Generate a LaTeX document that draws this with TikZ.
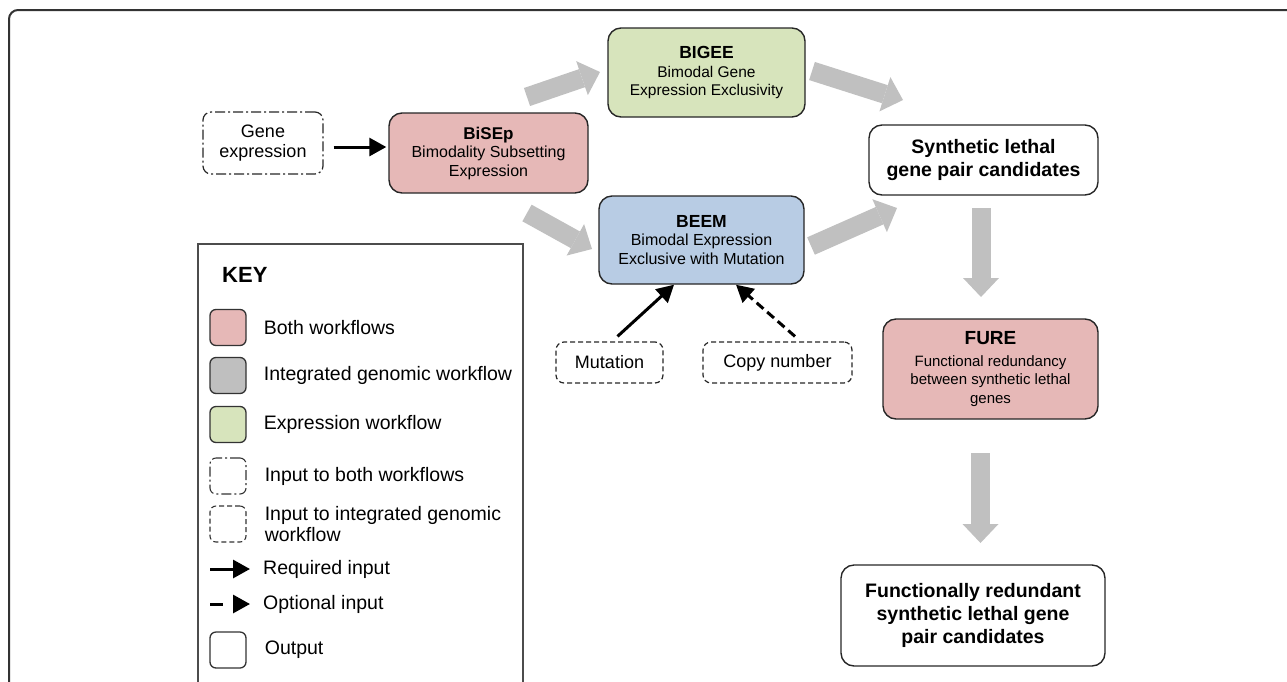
\documentclass[tikz,border=0pt]{standalone}
\usepackage{fontspec}
\setmainfont{Liberation Sans}
\usepackage{tikz}
\usetikzlibrary{arrows.meta,positioning}
\definecolor{pinkfill}{HTML}{E6B8B7}
\definecolor{greenfill}{HTML}{D7E4BC}
\definecolor{bluefill}{HTML}{B8CCE4}
\definecolor{grayfill}{HTML}{BFBFBF}
\definecolor{flowgray}{HTML}{C0C0C0}
\begin{document}
\begin{tikzpicture}[x=1pt,y=-1pt,
box/.style={draw=black!85,line width=1.4pt,rounded corners=13pt,align=center,inner sep=0pt,font=\fontsize{16}{18.5}\selectfont},
outbox/.style={box,font=\fontsize{19.5}{23}\selectfont\bfseries},
inbox/.style={draw=black!85,line width=1.2pt,rounded corners=8pt,align=center,inner sep=0pt,font=\fontsize{18}{20}\selectfont},
swatch/.style={draw=black!80,line width=1.3pt,rounded corners=6pt,minimum width=36pt,minimum height=36pt,inner sep=0pt},
keytext/.style={inner sep=0pt,anchor=west,align=left,font=\fontsize{19.5}{21}\selectfont},
flow/.style={draw=flowgray,line width=19pt,-{Triangle[width=36pt,length=19pt,line width=0pt]}},
req/.style={line width=3pt,-{Triangle[width=18pt,length=17pt]}},
opt/.style={req,dash pattern=on 9pt off 5pt},
dashdot/.style={dash pattern=on 10pt off 3pt on 2pt off 3pt},
shortdash/.style={dash pattern=on 5pt off 3pt}]
\useasboundingbox (0,0) rectangle (1287,681);
\clip (0,0) rectangle (1287,681);
\draw[line width=2pt,draw=black!80,rounded corners=9pt] (9,700) -- (9,10) -- (1300,10);
% workflow boxes
\node[inbox,dashdot,minimum width=120pt,minimum height=62pt] (gene) at (263,143) {Gene\\expression};
\node[box,fill=pinkfill,minimum width=199pt,minimum height=80pt] (bisep) at (488.5,153)
  {{\fontsize{17}{19}\selectfont\bfseries BiSEp}\\Bimodality Subsetting\\Expression};
\node[box,fill=greenfill,minimum width=197pt,minimum height=89pt,font=\fontsize{15.5}{18.5}\selectfont] (bigee) at (706.5,72.5)
  {{\fontsize{17.5}{19}\selectfont\bfseries BIGEE}\\Bimodal Gene\\Expression Exclusivity};
\node[box,fill=bluefill,minimum width=205pt,minimum height=88pt] (beem) at (701.5,240)
  {{\fontsize{17.5}{19}\selectfont\bfseries BEEM}\\Bimodal Expression\\Exclusive with Mutation};
\node[inbox,shortdash,minimum width=107pt,minimum height=41pt] (mut) at (609.5,362.5) {Mutation};
\node[inbox,shortdash,minimum width=149pt,minimum height=41pt] (cnv) at (777.5,362.5) {Copy number};
\node[outbox,minimum width=229pt,minimum height=70pt] (sl) at (983.5,160) {Synthetic lethal\\gene pair candidates};
\node[box,fill=pinkfill,minimum width=215pt,minimum height=100pt,font=\fontsize{15}{18.5}\selectfont] (fure) at (990.5,369)
  {{\fontsize{19}{21}\selectfont\bfseries FURE}\\[3pt]Functional redundancy\\between synthetic lethal\\genes};
\node[outbox,minimum width=264pt,minimum height=101pt] (fr) at (973,615.5)
  {Functionally redundant\\synthetic lethal gene\\pair candidates};
% grey flow arrows
\coordinate (f1a) at (527,97);  \coordinate (f1b) at (600,72);
\coordinate (f2a) at (527,213); \coordinate (f2b) at (592,249);
\coordinate (f3a) at (812,71);  \coordinate (f3b) at (903,100);
\coordinate (f4a) at (811,246); \coordinate (f4b) at (897,208);
\coordinate (f5a) at (981,208); \coordinate (f5b) at (981,297);
\coordinate (f6a) at (980.5,453); \coordinate (f6b) at (980.5,543);
\draw[flow] (f1a) -- (f1b);
\draw[flow] (f2a) -- (f2b);
\draw[flow] (f3a) -- (f3b);
\draw[flow] (f4a) -- (f4b);
\draw[flow] (f5a) -- (f5b);
\draw[flow] (f6a) -- (f6b);
% inputs
\draw[req,shorten <=10pt,shorten >=2pt] ([yshift=-4pt]gene.east) -- ([yshift=-4pt]gene.east -| bisep.west);
\draw[req] ([shift={(8,-5)}]mut.north) -- ([xshift=-27.5pt]beem.south);
\draw[opt] ([shift={(17.5,-5)}]cnv.north) -- ([xshift=34.5pt]beem.south);
% key
\draw[line width=1.3pt,draw=black!70] (198,700) -- (198,244) -- (523,244) -- (523,700);
\node[inner sep=0pt,anchor=west,font=\fontsize{22}{24}\selectfont\bfseries] (key) at (222,275) {KEY};
\node[swatch,fill=pinkfill] (k1) at (228,327.5) {};
\node[keytext,right=17pt of k1] {Both workflows};
\node[swatch,fill=grayfill] (k2) at (228,375.5) {};
\node[keytext,right=17pt of k2] {Integrated genomic workflow};
\node[swatch,fill=greenfill] (k3) at (228,424.5) {};
\node[keytext,right=17pt of k3] {Expression workflow};
\node[swatch,line width=1.1pt,dashdot] (k4) at (228,476) {};
\node[keytext,right=18pt of k4] {Input to both workflows};
\node[swatch,line width=1.1pt,shortdash] (k5) at (228,524) {};
\node[keytext,right=18pt of k5] {Input to integrated genomic\\workflow};
\coordinate (k6a) at (210,569); \coordinate (k6b) at (250,569);
\draw[req] (k6a) -- (k6b);
\node[keytext,right=13pt of k6b] {Required input};
\coordinate (k7a) at (210,604); \coordinate (k7b) at (250,604);
\draw[req,dash pattern=on 13pt off 10pt] (k7a) -- (k7b);
\node[keytext,right=13pt of k7b] {Optional input};
\node[swatch] (k8) at (228,650) {};
\node[keytext,right=18pt of k8] {Output};
\end{tikzpicture}
\end{document}
